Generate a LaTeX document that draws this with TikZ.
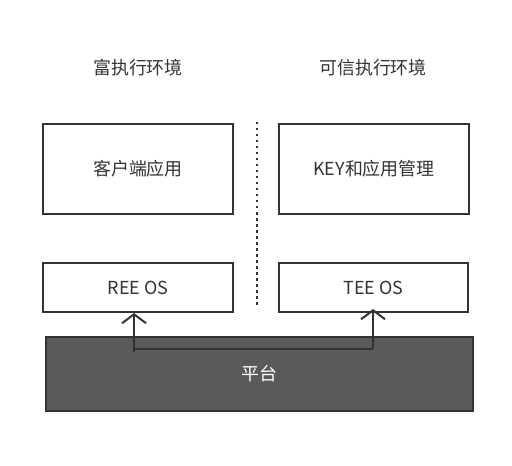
\documentclass[tikz,border=0pt]{standalone}
\usepackage{fontspec}
\setmainfont{Noto Sans CJK SC}
\usetikzlibrary{arrows.meta}
\definecolor{edge}{HTML}{333333}
\definecolor{plat}{HTML}{5A5A5A}
\begin{document}
\begin{tikzpicture}[x=1bp,y=-1bp,
  box/.style={draw=edge,line width=2bp,fill=white,inner sep=0pt},
  platbox/.style={draw=edge,line width=2bp,fill=plat,inner sep=0pt},
  lbl/.style={font=\fontsize{18}{21}\selectfont,text=edge},
  conn/.style={draw=edge,line width=2bp,-{Straight Barb[length=9bp,width=24bp,line width=2bp]}}]
\useasboundingbox (0,0) rectangle (512,466);
\node[lbl] (t1) at (138,68) {富执行环境};
\node[lbl] (t2) at (373,68) {可信执行环境};
\node[box,minimum width=190bp,minimum height=90bp] (app) at (138,169) {};
\node[lbl] at (app) {客户端应用};
\node[box,minimum width=190bp,minimum height=90bp] (key) at (374,169) {};
\node[lbl] at (key) {KEY和应用管理};
\node[box,minimum width=190bp,minimum height=49bp] (ree) at (138,287.5) {};
\node[lbl] at (ree) {REE OS};
\node[box,minimum width=189bp,minimum height=49bp] (tee) at (373.5,287.5) {};
\node[lbl] at (tee) {TEE OS};
\node[platbox,minimum width=427bp,minimum height=74bp] (plat) at (259.5,374) {};
\node[lbl,text=white] at (plat) {平台};
\coordinate (d1) at (257,122);
\coordinate (d2) at (257,308);
\draw[edge,line width=2.2bp,dash pattern=on 2.5bp off 3.5bp] (d1) -- (d2);
\coordinate (a0) at (134,352);
\coordinate (a1) at (134,349);
\coordinate (a2) at (373,349);
\draw[conn] (a0) -- (ree.south -| a0);
\draw[draw=edge,line width=2bp] (a1) -- (a2);
\draw[conn] (a2) -- ([yshift=4bp]tee.south -| a2);
\end{tikzpicture}
\end{document}
